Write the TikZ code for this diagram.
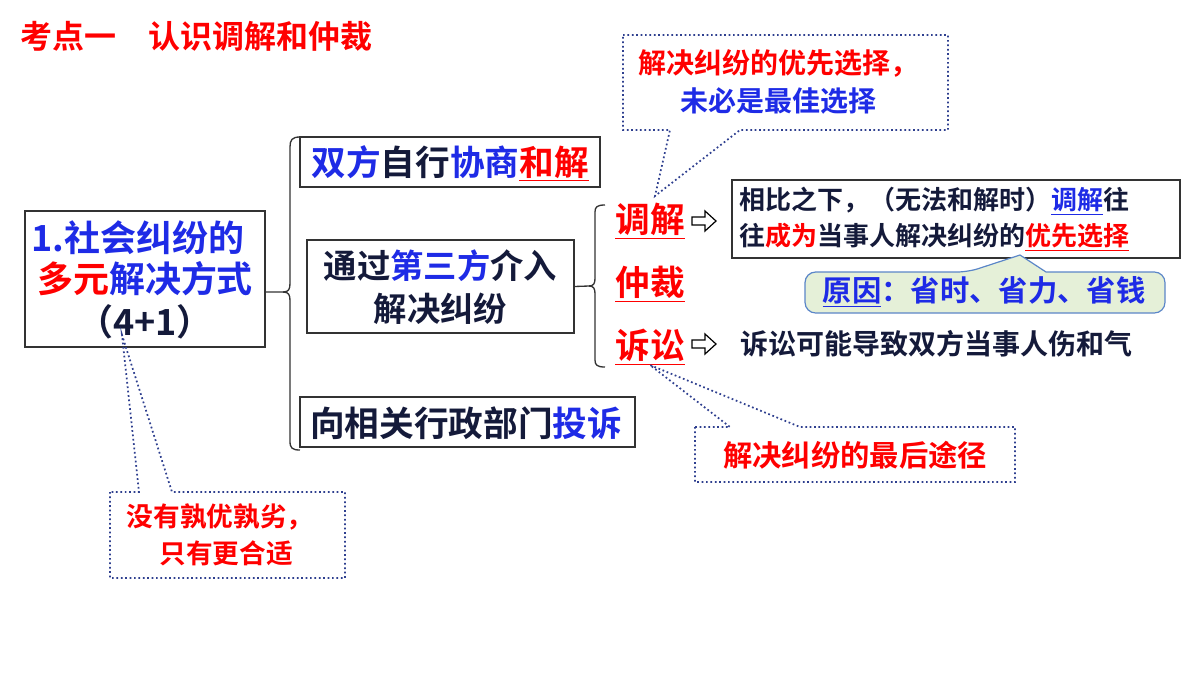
\documentclass[tikz,border=0pt]{standalone}
\usepackage{fontspec}
\setmainfont{Noto Sans CJK SC}[BoldFont={Noto Sans CJK SC Bold}]
\usepackage{xcolor}
\definecolor{rd}{HTML}{FF0000}
\definecolor{bl}{HTML}{1E2BE6}
\definecolor{nv}{HTML}{141A3A}
\definecolor{dotc}{HTML}{2E3F8F}
\definecolor{grn}{HTML}{E5F0D8}
\definecolor{gbd}{HTML}{5B86C8}
\newcommand{\ru}[1]{{\color{rd}\underline{#1}}}
\newcommand{\bu}[1]{{\color{bl}\underline{#1}}}
\newcommand{\fs}[1]{\bfseries\fontsize{#1}{#1}\selectfont}
\begin{document}
\begin{tikzpicture}[x=0.75pt,y=-0.75pt,
  box/.style={draw=black!80,line width=0.8pt,inner sep=0pt},
  txt/.style={font=\fs{26},text=nv,align=center,inner sep=0pt},
  dotbox/.style={draw=dotc,line width=1.3pt,dotted},
  brc/.style={draw=black!80,line width=1pt}]
\useasboundingbox (0,0) rectangle (1200,675);
\node[txt,text=rd,anchor=west,font=\fs{24}] (title) at (20,36) {考点一\quad 认识调解和仲裁};
% main box
\draw[box] (25,211) rectangle (265,347);
\node[txt,text=bl,font=\fs{27}] (m1) at (138,238) {1.社会纠纷的};
\node[txt,text=bl,font=\fs{27}] (m2) at (145,279) {{\color{rd}多元}解决方式};
\node[txt,font=\fs{27}] (m3) at (145,322) {（4+1）};
\coordinate (mr) at (265,292);
% brace 1
\draw[brc] (mr) -- (283,292) .. controls (289,292) and (290,289) .. (290,283) -- (290,147) .. controls (290,140) and (292,137) .. (300,137);
\draw[brc] (283,292) .. controls (289,292) and (290,295) .. (290,301) -- (290,441) .. controls (290,448) and (292,450) .. (300,450);
% boxes
\node[box,minimum width=300*0.75pt,minimum height=50*0.75pt] (b1) at (450,162) {};
\node[txt,text=bl] (t1) at (450,163) {双方{\color{nv}自行}协商\ru{和解}};
\node[box,minimum width=267*0.75pt,minimum height=93*0.75pt] (b2) at (440.5,286.5) {};
\node[txt,font=\bfseries\fontsize{25}{32}\selectfont] (t2) at (440.5,287) {通过{\color{bl}第三方}介入\\解决纠纷};
\node[box,minimum width=335*0.75pt,minimum height=50*0.75pt] (b3) at (467.5,422) {};
\node[txt] (t3) at (466,423) {向相关行政部门{\color{bl}投诉}};
% brace 2
\draw[brc] (b2.east) -- (589,286) .. controls (594,286) and (595,283) .. (595,278) -- (595,212) .. controls (595,207) and (597,205) .. (605,205);
\draw[brc] (589,286) .. controls (594,286) and (595,289) .. (595,294) -- (595,360) .. controls (595,365) and (597,367) .. (605,367);
\node[txt] (k1) at (650,221) {\ru{调解}};
\node[txt] (k2) at (650,284) {\ru{仲裁}};
\node[txt] (k3) at (650,347) {\ru{诉讼}};
% open arrows
\foreach \y in {221,344}{
  \draw[line width=0.9pt,line join=miter] (692,\y-4) -- (705,\y-4) -- (705,\y-10) -- (716,\y) -- (705,\y+10) -- (705,\y+4) -- (692,\y+4) -- cycle;
}
% right box
\draw[box] (732,180) rectangle (1180,258);
\node[txt,anchor=west,align=left,font=\bfseries\fontsize{19.5}{27}\selectfont] (r1) at (739,219) {相比之下，（无法和解时）\bu{调解}往\\往{\color{rd}成为}当事人解决纠纷的\ru{优先选择}};
% reason callout
\draw[draw=gbd,fill=grn,line width=0.9pt,rounded corners=8pt] (805,272) -- (968,272) [sharp corners] -- (1020,255) -- (1046,272) [rounded corners=8pt] -- (1165,272) -- (1165,313) -- (805,313) -- cycle;
\node[txt,text=bl,font=\fs{22}] (why) at (984,292) {\underline{原因}：省时、省力、省钱};
\node[txt,anchor=west,font=\fs{21}] (ss) at (740,344) {诉讼可能导致双方当事人伤和气};
% dotted callouts
\draw[dotbox] (623,35) -- (948,35) -- (948,130) -- (740,130) -- (655,196) -- (670,130) -- (623,130) -- cycle;
\node[txt,font=\bfseries\fontsize{21}{29}\selectfont,text=rd] (c1) at (778,82) {解决纠纷的优先选择，\\{\color{bl}未必是最佳选择}};
\draw[dotbox] (695,427) -- (695,482) -- (1015,482) -- (1015,427) -- (800,427) -- (650,365) -- (730,427) -- cycle;
\node[txt,font=\fs{22}] (c2) at (855,455) {\color{rd}解决纠纷的最后途径};
\draw[dotbox] (110,492) -- (110,578) -- (345,578) -- (345,492) -- (172,492) -- (122,335) -- (139,492) -- cycle;
\node[txt,font=\bfseries\fontsize{20}{28}\selectfont,text=rd] (c3) at (220,535) {没有孰优孰劣，\\\ \ 只有更合适};
\end{tikzpicture}
\end{document}
